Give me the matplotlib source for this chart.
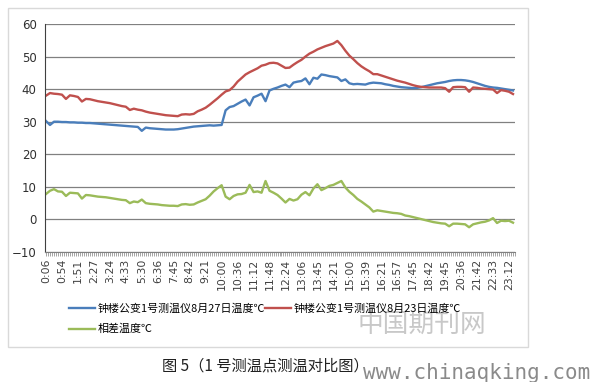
import matplotlib.pyplot as plt
from matplotlib.patches import Rectangle
from matplotlib.ticker import MultipleLocator

plt.rcParams['font.family'] = ['Noto Sans CJK SC', 'DejaVu Sans']

# Tick labels shown on the time axis (one every 4 samples)
time_labels = ['0:06', '0:54', '1:51', '2:27', '3:24', '4:33', '5:30', '6:36', '7:45', '8:42',
               '9:21', '10:00', '10:36', '11:12', '11:48', '12:24', '13:06', '13:45', '14:21', '15:00',
               '15:39', '16:21', '16:57', '17:45', '18:42', '19:45', '20:36', '21:42', '22:33', '23:12']

# 8月27日 temperature (blue)
temp_27 = [30.2, 29.0, 30.0, 30.0, 29.9, 29.9, 29.8, 29.8, 29.7, 29.7,
           29.6, 29.6, 29.5, 29.4, 29.3, 29.2, 29.1, 29.0, 28.9, 28.8,
           28.7, 28.6, 28.5, 28.4, 27.2, 28.2, 28.0, 27.9, 27.8, 27.7,
           27.6, 27.6, 27.6, 27.7, 27.9, 28.1, 28.3, 28.5, 28.6, 28.7,
           28.8, 28.9, 28.8, 28.9, 29.0, 33.5, 34.5, 34.8, 35.5, 36.2,
           36.8, 35.0, 37.5, 38.0, 38.6, 36.3, 39.6, 40.1, 40.5, 41.0,
           41.4, 40.6, 42.0, 42.3, 42.5, 43.3, 41.5, 43.5, 43.2, 44.5,
           44.3, 44.0, 43.8, 43.6, 42.5, 43.0, 41.8, 41.5, 41.6, 41.5,
           41.4, 41.8, 42.0, 41.9, 41.8, 41.5, 41.3, 41.0, 40.8, 40.6,
           40.5, 40.4, 40.3, 40.4, 40.6, 40.9, 41.2, 41.5, 41.8, 42.0,
           42.2, 42.5, 42.7, 42.8, 42.8, 42.7, 42.5, 42.2, 41.8, 41.4,
           41.0, 40.7, 40.5, 40.4, 40.2, 40.0, 39.8, 39.6]

# 8月23日 temperature (red)
temp_23 = [38.0, 38.8, 38.6, 38.5, 38.3, 37.0, 38.1, 37.9, 37.6, 36.2,
           37.0, 36.9, 36.6, 36.3, 36.1, 35.9, 35.7, 35.4, 35.1, 34.8,
           34.6, 33.6, 34.0, 33.7, 33.5, 33.1, 32.8, 32.6, 32.4, 32.2,
           32.0, 31.9, 31.8, 31.7, 32.2, 32.3, 32.2, 32.4, 33.2, 33.7,
           34.3, 35.2, 36.2, 37.2, 38.3, 39.3, 39.7, 40.8, 42.3, 43.4,
           44.5, 45.2, 45.8, 46.4, 47.2, 47.5, 48.0, 48.1, 47.9, 47.2,
           46.5, 46.6, 47.5, 48.3, 49.0, 50.0, 50.9, 51.5, 52.2, 52.7,
           53.2, 53.6, 54.0, 54.8, 53.5, 51.8, 50.3, 49.2, 48.0, 47.0,
           46.2, 45.5, 44.6, 44.6, 44.2, 43.8, 43.4, 43.0, 42.6, 42.3,
           42.0, 41.6, 41.2, 40.9, 40.7, 40.6, 40.5, 40.5, 40.5, 40.5,
           40.3, 39.2, 40.6, 40.7, 40.7, 40.6, 39.2, 40.5, 40.4, 40.2,
           40.1, 40.0, 39.9, 38.8, 39.7, 39.5, 39.2, 38.5]

# temperature difference (green)
temp_diff = [7.8, 8.8, 9.3, 8.6, 8.5, 7.2, 8.2, 8.1, 8.0, 6.4,
             7.5, 7.4, 7.2, 7.0, 6.9, 6.8, 6.6, 6.4, 6.2, 6.0,
             5.9, 5.0, 5.5, 5.3, 6.1, 5.0, 4.8, 4.7, 4.6, 4.4,
             4.3, 4.2, 4.2, 4.1, 4.6, 4.7, 4.5, 4.6, 5.2, 5.7,
             6.2, 7.3, 8.6, 9.6, 10.5, 7.0, 6.2, 7.2, 7.7, 7.8,
             8.2, 10.6, 8.4, 8.6, 8.2, 11.8, 8.8, 8.2, 7.5, 6.4,
             5.2, 6.3, 5.8, 6.2, 7.6, 8.4, 7.4, 9.5, 10.8, 9.0,
             9.6, 10.3, 10.6, 11.2, 11.8, 9.8, 8.5, 7.5, 6.3, 5.5,
             4.6, 3.7, 2.4, 2.8, 2.6, 2.4, 2.2, 2.0, 1.9, 1.7,
             1.2, 1.0, 0.7, 0.4, 0.1, -0.2, -0.5, -0.8, -1.0, -1.2,
             -1.3, -2.1, -1.3, -1.3, -1.4, -1.5, -2.4, -1.5, -1.2, -0.9,
             -0.7, -0.3, 0.4, -1.1, -0.4, -0.5, -0.4, -1.0]

W, H = 591, 382
fig = plt.figure(figsize=(W / 100, H / 100), dpi=100)

# outer chart border
fig.patches.append(Rectangle((8 / W, 1 - 347 / H), 520 / W, 339 / H,
                             transform=fig.transFigure, fill=False,
                             edgecolor='#d9d9d9', linewidth=1))

ax = fig.add_axes([45 / W, 1 - 252 / H, 470 / W, 228 / H])
x = list(range(len(temp_27)))
l1, = ax.plot(x, temp_27, color='#4a7ebb', lw=1.7)
l2, = ax.plot(x, temp_23, color='#c0504d', lw=1.7)
l3, = ax.plot(x, temp_diff, color='#9bbb59', lw=1.7)

ax.set_ylim(-10, 60)
ax.set_xlim(-0.25, 117.5)
ax.set_yticks(range(-10, 61, 10))
ax.yaxis.grid(True, color='#808080', lw=0.9)
ax.set_axisbelow(True)
ax.set_xticks(range(0, len(time_labels) * 4, 4))
ax.set_xticklabels(time_labels, rotation=90, fontsize=7.8, color='#404040',
                   family='DejaVu Sans')
ax.xaxis.set_minor_locator(MultipleLocator(0.5))
ax.tick_params(axis='x', which='both', length=3, width=0.5, color='#808080', pad=2)
ax.tick_params(axis='y', length=0, labelsize=8.5, labelcolor='#303030', pad=6)
for lbl in ax.get_yticklabels():
    lbl.set_family('DejaVu Sans')
for s in ['top', 'right']:
    ax.spines[s].set_visible(False)
ax.spines['left'].set_color('#404040')
ax.spines['left'].set_linewidth(0.8)
ax.spines['bottom'].set_color('#808080')
ax.spines['bottom'].set_linewidth(0.8)

fig.legend([l1, l3, l2],
           ['钟楼公变1号测温仪8月27日温度℃', '相差温度℃', '钟楼公变1号测温仪8月23日温度℃'],
           ncol=2, loc='upper left', bbox_to_anchor=(69 / W, 1 - 303 / H),
           frameon=False, fontsize=7.9, handlelength=2.4, handletextpad=0.2,
           columnspacing=0.0, labelspacing=0.95, borderaxespad=0, borderpad=0)

fig.text(486 / W, 1 - 325 / H, '中国期刊网', fontsize=18.5, color='#c8c8c8',
         ha='right', va='center', fontweight='light')
fig.text(265 / W, 1 - 366 / H, '图 5（1 号测温点测温对比图）', fontsize=11,
         color='#202020', ha='center', va='center', fontweight='light')
fig.text(590 / W, 1 - 373 / H, 'www.chinaqking.com', fontsize=15,
         color='#8a8a8a', ha='right', va='center', family='DejaVu Sans Mono')

fig.savefig('out.png', dpi=100)
